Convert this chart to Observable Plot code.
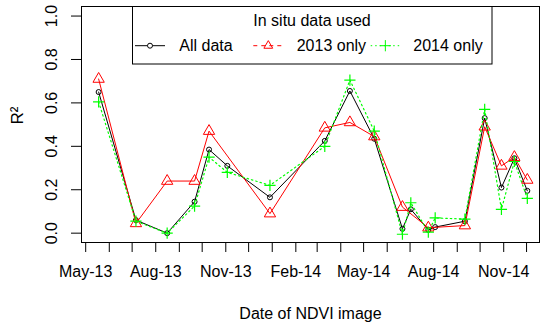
<!DOCTYPE html>
<html><head><meta charset="utf-8">
<script src="https://cdn.jsdelivr.net/npm/d3@7"></script>
<script src="https://cdn.jsdelivr.net/npm/@observablehq/plot@0.6"></script>
<style>
body{margin:0;background:#fff;}
svg{font-family:"Liberation Sans",Arial,sans-serif;}
</style>
</head><body><div id="chart"></div>
<script>
// Image dates
const dates = ["2013-05-18","2013-07-06","2013-08-16","2013-09-21","2013-10-10","2013-11-03","2013-12-29",
  "2014-03-11","2014-04-13","2014-05-15","2014-06-21","2014-07-02","2014-07-25","2014-08-03",
  "2014-09-11","2014-10-07","2014-10-29","2014-11-15","2014-12-02"];
// R² series
const allData  = [0.65,0.06,0.00,0.145,0.385,0.31,0.165,0.425,0.655,0.435,0.02,0.11,0.015,0.028,0.055,0.53,0.21,0.345,0.195];
const only2013 = [0.71,0.045,0.24,0.24,0.47,null,0.09,0.485,0.51,0.445,0.12,null,0.025,null,0.035,0.49,0.31,0.35,0.245];
const only2014 = [0.605,0.055,0.0,0.125,0.35,0.28,0.22,0.40,0.705,0.47,-0.005,0.14,0.005,0.07,0.065,0.57,0.11,0.33,0.16];
// Axis ticks
const xLabelDates = ["2013-05-01","2013-08-01","2013-11-01","2014-02-01","2014-05-01","2014-08-01","2014-11-01"];
const xTickStart = "2013-05-01", xTickEnd = "2014-12-01";
const yTicks = [0, 0.2, 0.4, 0.6, 0.8, 1.0];
const legendTitle = "In situ data used";
const seriesNames = ["All data", "2013 only", "2014 only"];

const parse = d3.utcParse("%Y-%m-%d");
const rows = dates.map((d, i) => ({date: parse(d), all: allData[i], y13: only2013[i], y14: only2014[i]}));
const r13 = rows.filter(r => r.y13 != null);
const monthTicks = d3.utcMonth.range(parse(xTickStart), d3.utcDay.offset(parse(xTickEnd), 1));
const labelTicks = xLabelDates.map(parse);

const FS = 16;
const R_CIRC = 2.5, R_TRI = 4.2, R_PLUS = 3.7;
const chart = Plot.plot({
  width: 550, height: 323,
  marginLeft: 81, marginRight: 11, marginTop: 6, marginBottom: 81,
  style: {fontFamily: '"Liberation Sans", Arial, sans-serif', fontSize: FS + "px", color: "#000", background: "#fff", overflow: "visible"},
  x: {type: "utc", domain: [new Date(Date.UTC(2013, 3, 25, 12)), new Date(Date.UTC(2014, 11, 18))]},
  y: {domain: [-0.043, 1.044]},
  marks: [
    Plot.frame({stroke: "#000"}),
    Plot.axisX(monthTicks, {tickSize: 10, tickFormat: () => "", label: null, stroke: "#000"}),
    Plot.axisX(labelTicks, {tickSize: 0, tickPadding: 23, tickFormat: d3.utcFormat("%b-%y"), label: null, fontSize: FS, fill: "#000"}),
    Plot.axisY(yTicks, {tickSize: 10, tickRotate: -90, tickPadding: 15, tickFormat: d => d.toFixed(1), label: null, fontSize: FS, fill: "#000"}),
    Plot.text(["Date of NDVI image"], {frameAnchor: "bottom", dy: 76, fontSize: FS, fill: "#000"}),
    Plot.text(["R²"], {frameAnchor: "left", dx: -64, rotate: -90, fontSize: FS + 1, fill: "#000"}),
    Plot.line(rows, {x: "date", y: "all", stroke: "#000", strokeWidth: 1}),
    Plot.dot(rows, {x: "date", y: "all", r: R_CIRC, stroke: "#000", strokeWidth: 1, symbol: "circle"}),
    Plot.line(r13, {x: "date", y: "y13", stroke: "#ff0000", strokeWidth: 1}),
    Plot.dot(r13, {x: "date", y: "y13", r: R_TRI, stroke: "#ff0000", strokeWidth: 1, symbol: "triangle"}),
    Plot.line(rows, {x: "date", y: "y14", stroke: "#00ff00", strokeWidth: 1.2, strokeDasharray: "1.5,3"}),
    Plot.dot(rows, {x: "date", y: "y14", r: R_PLUS, stroke: "#00ff00", strokeWidth: 1.2, symbol: "plus"})
  ]
});
document.getElementById("chart").appendChild(chart);

// Legend (R-style box)
const svg = d3.select(chart);
const g = svg.append("g").style("font-size", FS + "px").attr("fill", "#000").attr("text-anchor", "start");
g.append("rect").attr("x", 132.5).attr("y", 6.5).attr("width", 359.5).attr("height", 57.5)
  .attr("fill", "#fff").attr("stroke", "#000");
g.append("text").attr("x", 312).attr("y", 25.5).attr("text-anchor", "middle").text(legendTitle);
const ly = 45.7;
const entries = [
  {x0: 135, x1: 165, c: "#000", dash: null, sym: d3.symbolCircle, r: R_CIRC, tx: 179.3},
  {x0: 253.3, x1: 283.3, c: "#ff0000", dash: "4,4", sym: d3.symbolTriangle2, r: R_TRI, tx: 296.7},
  {x0: 370.7, x1: 400, c: "#00ff00", dash: "1.5,3", sym: d3.symbolPlus, r: R_PLUS, tx: 413.3}
];
entries.forEach((e, i) => {
  g.append("line").attr("x1", e.x0).attr("x2", e.x1).attr("y1", ly).attr("y2", ly)
    .attr("stroke", e.c).attr("stroke-dasharray", e.dash);
  g.append("path").attr("transform", `translate(${(e.x0 + e.x1) / 2},${ly})`)
    .attr("d", d3.symbol(e.sym, Math.PI * e.r * e.r)()).attr("fill", i === 0 ? "#fff" : "none").attr("stroke", e.c);
  g.append("text").attr("x", e.tx).attr("y", ly + 5.5).attr("text-anchor", "start").text(seriesNames[i]);
});
</script>
</body></html>
